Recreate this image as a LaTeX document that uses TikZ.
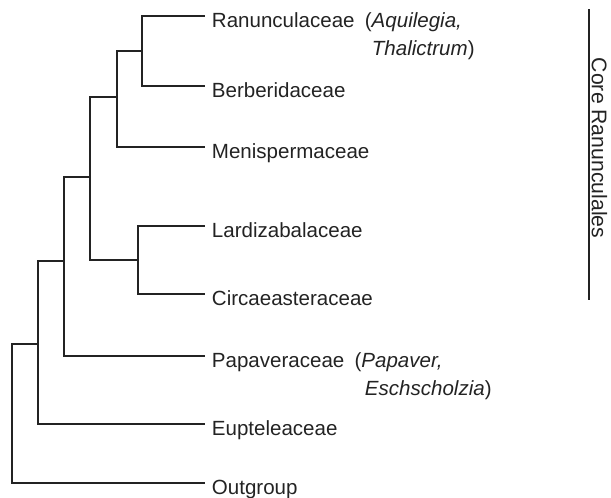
\documentclass[tikz,border=0pt]{standalone}
\usepackage{fontspec}
\setmainfont{Liberation Sans}
\definecolor{treegray}{RGB}{35,35,35}
\tikzset{
  branch/.style={line width=0.85pt, draw=treegray},
  leaf/.style={anchor=west, inner xsep=5pt, inner ysep=0pt, text height=19.8pt, text depth=3.3pt,
    text=treegray, font=\fontsize{15.4}{18}\selectfont},
  cladelabel/.style={rotate=-90, inner sep=0pt, text=treegray, font=\fontsize{15.9}{19}\selectfont},
}

\begin{document}
\begin{tikzpicture}[x=0.75pt,y=-0.75pt]
    \useasboundingbox (0,0) rectangle (611,497);
    % taxa
    \node[leaf] (ran) at (205,16) {Ranunculaceae\hspace{0.5em}(\textit{Aquilegia,}};
    \node[leaf] (thal) at (365,44) {\textit{Thalictrum})};
    \node[leaf] (ber) at (205,86) {Berberidaceae};
    \node[leaf] (men) at (205,147) {Menispermaceae};
    \node[leaf] (lar) at (205,226) {Lardizabalaceae};
    \node[leaf] (cir) at (205,294) {Circaeasteraceae};
    \node[leaf] (papv) at (205,356) {Papaveraceae\hspace{0.5em}(\textit{Papaver,}};
    \node[leaf] (esch) at (358,384) {\textit{Eschscholzia})};
    \node[leaf] (eupt) at (205,424) {Eupteleaceae};
    \node[leaf] (out) at (205,483) {Outgroup};
    % internal nodes
    \coordinate (rb) at (142,51);
    \coordinate (rbm) at (117,97);
    \coordinate (lc) at (138,260);
    \coordinate (core) at (90,177);
    \coordinate (pap) at (64,261);
    \coordinate (eup) at (38,344);
    \coordinate (root) at (12,413);
    \draw[branch] (rb) |- (ran.west);
    \draw[branch] (rb) |- (ber.west);
    \draw[branch] (rbm) |- (rb);
    \draw[branch] (rbm) |- (men.west);
    \draw[branch] (lc) |- (lar.west);
    \draw[branch] (lc) |- (cir.west);
    \draw[branch] (core) |- (rbm);
    \draw[branch] (core) |- (lc);
    \draw[branch] (pap) |- (core);
    \draw[branch] (pap) |- (papv.west);
    \draw[branch] (eup) |- (pap);
    \draw[branch] (eup) |- (eupt.west);
    \draw[branch] (root) |- (eup);
    \draw[branch] (root) |- (out.west);
    % core clade bar
    \coordinate (bartop) at (589,9);
    \coordinate (barbot) at (589,300);
    \draw[branch] (bartop) -- (barbot);
    \node[cladelabel] (corelab) at (599.5,148) {Core Ranunculales};
\end{tikzpicture}
\end{document}
